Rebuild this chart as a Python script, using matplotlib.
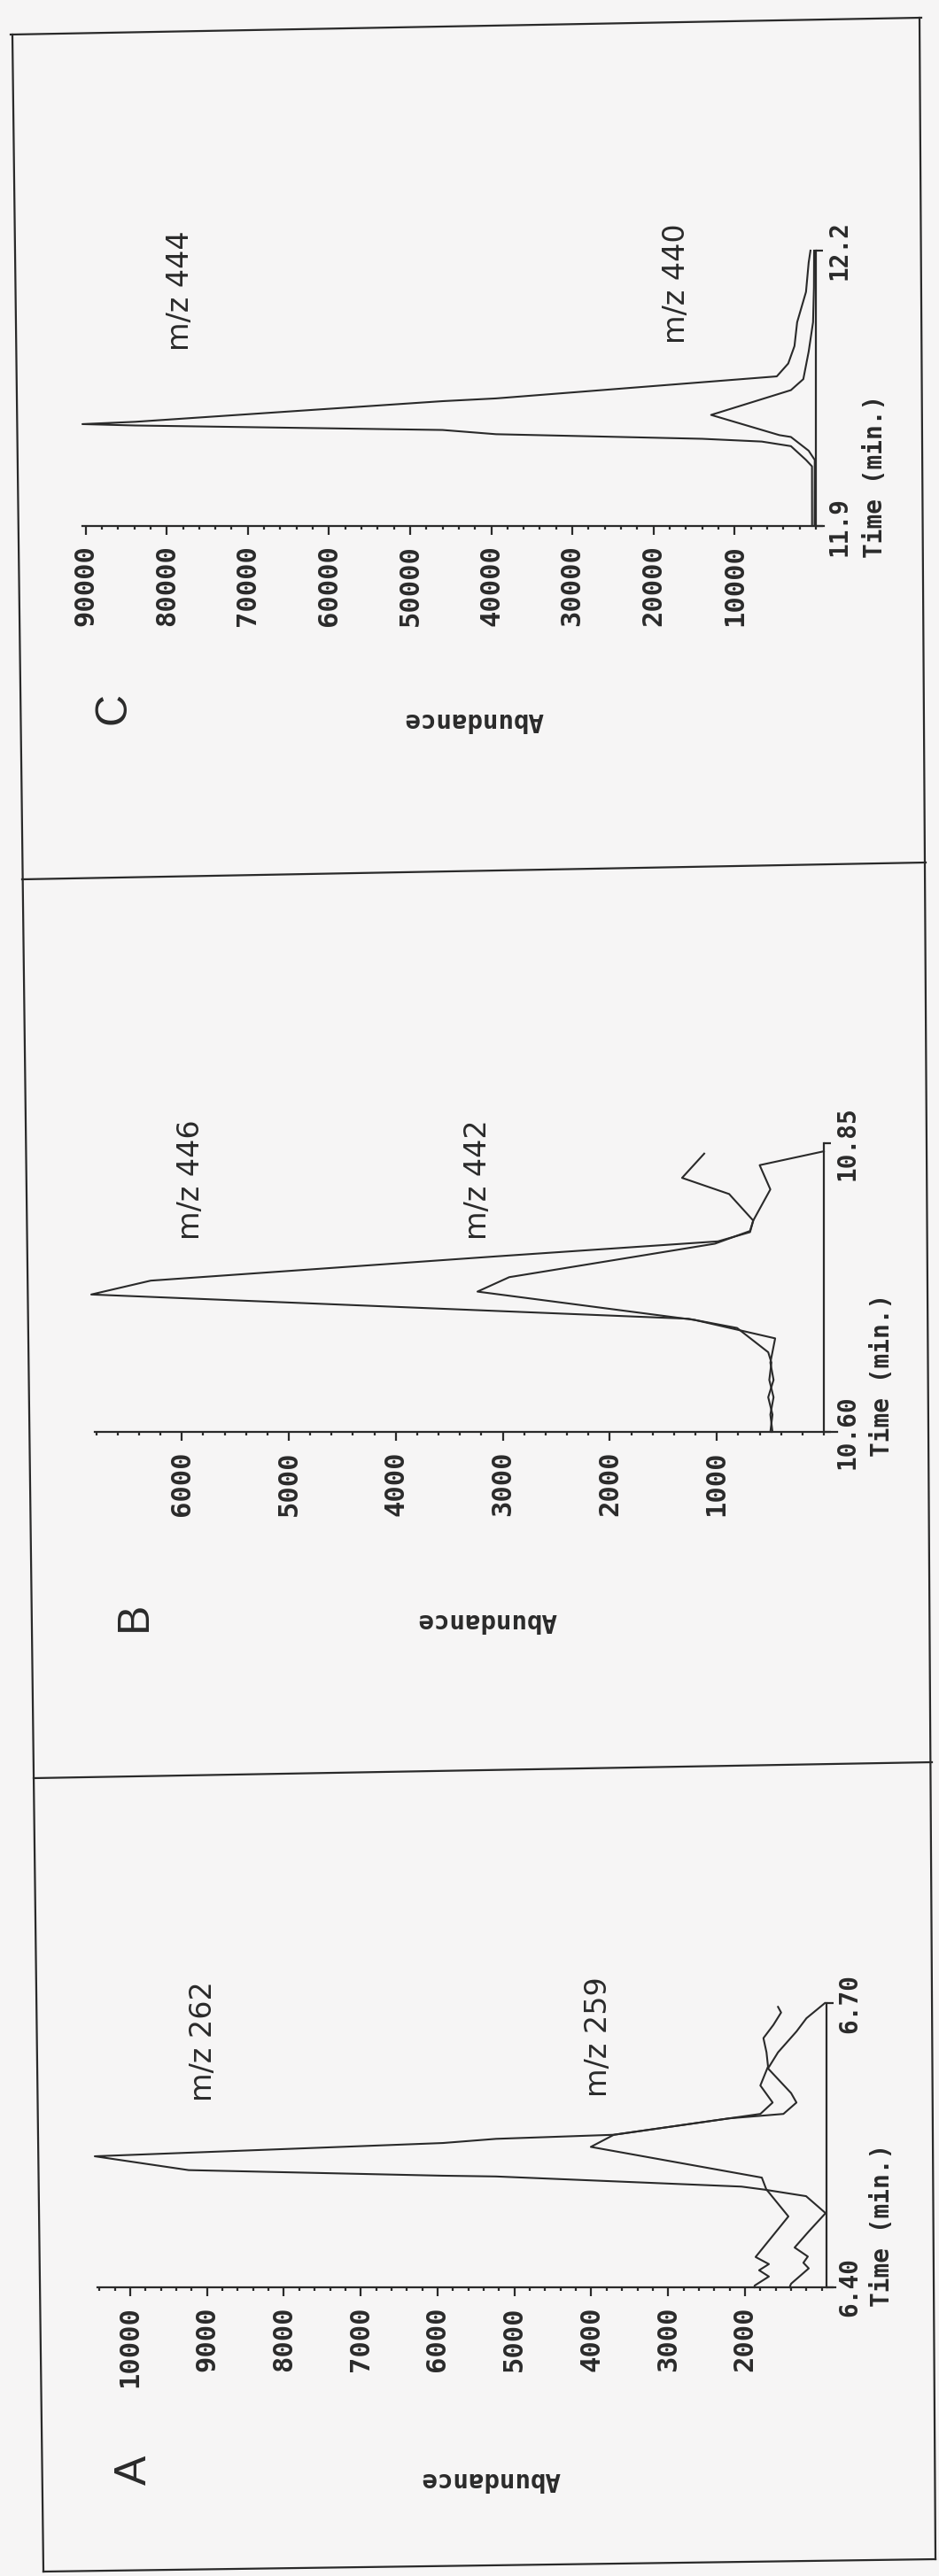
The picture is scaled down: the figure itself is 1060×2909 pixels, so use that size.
import matplotlib
matplotlib.use("Agg")
import matplotlib.pyplot as plt
from matplotlib.lines import Line2D
from matplotlib.ticker import MultipleLocator

# Scanned GC/MS ion chromatograms, page turned 90 degrees:
# abundance runs right-to-left, retention time runs upwards.

W, H = 1060, 2909

# ---- panel C : m/z 444 and m/z 440 ----
c_time_444 = [11.900, 11.965, 11.972, 11.987, 11.992, 11.995, 12.000, 12.0046, 12.0095, 12.011,
              12.0135, 12.036, 12.039, 12.063, 12.077, 12.096, 12.122, 12.155, 12.187, 12.200]
c_abund_444 = [450, 460, 1200, 3060, 6660, 14000, 39400, 46000, 83900, 90400,
               83900, 46000, 39400, 4800, 3390, 2620, 2290, 1200, 870, 650]
c_time_440 = [11.900, 11.972, 11.982, 11.997, 11.999, 12.021, 12.048, 12.060, 12.090, 12.122, 12.160, 12.200]
c_abund_440 = [150, 120, 870, 3060, 4480, 12900, 3060, 1530, 870, 330, 220, 200]
c_ticks = [10000, 20000, 30000, 40000, 50000, 60000, 70000, 80000, 90000]
c_time_labels = ["11.9", "12.2"]

# ---- panel B : m/z 446 and m/z 442 ----
b_time_446 = [10.600, 10.615, 10.630, 10.645, 10.660, 10.669, 10.690, 10.698, 10.719, 10.731,
              10.752, 10.765, 10.773, 10.783, 10.806, 10.820, 10.841]
b_abund_446 = [480, 500, 470, 510, 490, 520, 811, 1267, 6846, 6290,
               3063, 990, 690, 660, 885, 1325, 1118]
b_time_442 = [10.600, 10.615, 10.630, 10.645, 10.660, 10.681, 10.697, 10.7215, 10.734, 10.763,
              10.774, 10.783, 10.810, 10.831, 10.843]
b_abund_442 = [500, 480, 520, 470, 500, 455, 1209, 3237, 2940, 1018,
               690, 660, 500, 600, 0]
b_ticks = [1000, 2000, 3000, 4000, 5000, 6000]
b_time_labels = ["10.60", "10.85"]

# ---- panel A : m/z 262 and m/z 259 ----
a_time_262 = [6.400, 6.4038, 6.420, 6.4259, 6.4325, 6.442, 6.459, 6.4783, 6.4962, 6.5031,
              6.5063, 6.5170, 6.5178, 6.5237, 6.5383, 6.5523, 6.5567, 6.5610, 6.5783, 6.583,
              6.595, 6.613, 6.633, 6.648, 6.663, 6.677, 6.690, 6.696]
a_abund_262 = [1420, 1400, 1170, 1240, 1182, 1354, 1170, 951, 1205, 1746,
               2046, 5239, 5931, 9239, 10461, 5931, 5239, 3706, 2207, 1800,
               1640, 1800, 1700, 1720, 1760, 1630, 1530, 1570]
a_time_259 = [6.400, 6.4019, 6.4114, 6.418, 6.4245, 6.432, 6.4748, 6.5035, 6.5158, 6.5482,
              6.5610, 6.5783, 6.583, 6.595, 6.605, 6.631, 6.648, 6.670, 6.684, 6.700]
a_abund_259 = [1880, 1873, 1689, 1816, 1689, 1862, 1435, 1723, 1781, 4006,
               3706, 2207, 1500, 1330, 1400, 1700, 1570, 1330, 1200, 960]
a_ticks = [2000, 3000, 4000, 5000, 6000, 7000, 8000, 9000, 10000]
a_time_labels = ["6.40", "6.70"]

ink = "#2a2a2a"
paper = "#f6f5f5"
plt.rcParams["font.family"] = ["DejaVu Sans Mono"]
plt.rcParams["font.weight"] = "bold"


def fx(x):
    return x / W


def fy(y):
    return 1 - y / H


fig = plt.figure(figsize=(W / 100, H / 100), dpi=100, facecolor=paper)


def panel(box, xlim, ylim, zero, ticks, minor, tlabels, curves):
    x0, x1, ytop, ybot = box
    ax = fig.add_axes([fx(x0), fy(ybot), (x1 - x0) / W, (ybot - ytop) / H])
    ax.set_facecolor("none")
    ax.set_xlim(*xlim)
    ax.set_ylim(*ylim)
    ax.spines["top"].set_visible(False)
    ax.spines["left"].set_visible(False)
    for s in ("bottom", "right"):
        ax.spines[s].set_color(ink)
        ax.spines[s].set_linewidth(1.6)
    # time axis stands at the start of the abundance scale
    ax.spines["right"].set_position(("data", zero))
    ax.spines["right"].set_bounds(*ylim)

    ax.set_xticks(ticks, labels=[str(v) for v in ticks])
    ax.xaxis.set_minor_locator(MultipleLocator(minor))
    ax.tick_params(axis="x", which="major", direction="out", length=7, width=1.6,
                   pad=8.5, labelsize=22, labelrotation=90, color=ink, labelcolor=ink)
    ax.tick_params(axis="x", which="minor", direction="out", length=3, width=1.6, color=ink)

    ax.yaxis.set_ticks_position("right")
    ax.set_yticks(list(ylim), labels=tlabels)
    ax.tick_params(axis="y", direction="out", length=6, width=1.6, pad=3,
                   labelsize=20, labelrotation=90, color=ink, labelcolor=ink)
    for lbl in ax.get_yticklabels():
        lbl.set_verticalalignment("center")

    for t, a in curves:
        ax.plot(a, t, color=ink, lw=1.5, clip_on=False)
    return ax


panel((93, 930, 283, 594), (90400, -1000), (11.9, 12.2), 0, c_ticks, 2000, c_time_labels,
      [(c_time_444, c_abund_444), (c_time_440, c_abund_440)])
panel((107, 945, 1291, 1617), (6813, -124), (10.60, 10.85), 0, b_ticks, 200, b_time_labels,
      [(b_time_446, b_abund_446), (b_time_442, b_abund_442)])
panel((110, 943, 2262, 2583), (10426, 824), (6.40, 6.70), 940, a_ticks, 200, a_time_labels,
      [(a_time_262, a_abund_262), (a_time_259, a_abund_259)])


def label(x, y, s, rot, size, family, va="center", weight="normal"):
    fig.text(fx(x), fy(y), s, rotation=rot, ha="center", va=va, fontsize=size,
             family=family, color=ink, fontweight=weight)


# panel letters, ion labels, axis titles
for x, y, s in [(128, 800, "C"), (152, 1825, "B"), (152, 2789, "A")]:
    label(x, y, s, 90, 36, ["Liberation Sans"])
for x, y, s in [(203, 328, "m/z 444"), (763, 320, "m/z 440"),
                (215, 1332, "m/z 446"), (539, 1332, "m/z 442"),
                (229, 2305, "m/z 262"), (676, 2300, "m/z 259")]:
    label(x, y, s, 90, 24, ["DejaVu Sans"])
for x, y in [(535, 813), (550, 1830), (554, 2800)]:
    label(x, y, "Abundance", 180, 21, ["DejaVu Sans Mono"], weight="bold")
for x, y in [(988, 630), (996, 1645), (996, 2605)]:
    label(x, y, "Time (min.)", 90, 20, ["DejaVu Sans Mono"], va="bottom", weight="bold")

# outer frame and panel dividers of the scanned page (slightly skewed)
frame = [([12, 1040], [39, 20]), ([14, 49], [39, 2904]), ([1038, 1056], [20, 2890]),
         ([49, 1056], [2904, 2890]), ([25, 1045], [993, 974]), ([38, 1052], [2008, 1990])]
for xs, ys in frame:
    fig.add_artist(Line2D([fx(v) for v in xs], [fy(v) for v in ys], color=ink, lw=1.6))

fig.savefig("out.png", dpi=100, facecolor=paper)
